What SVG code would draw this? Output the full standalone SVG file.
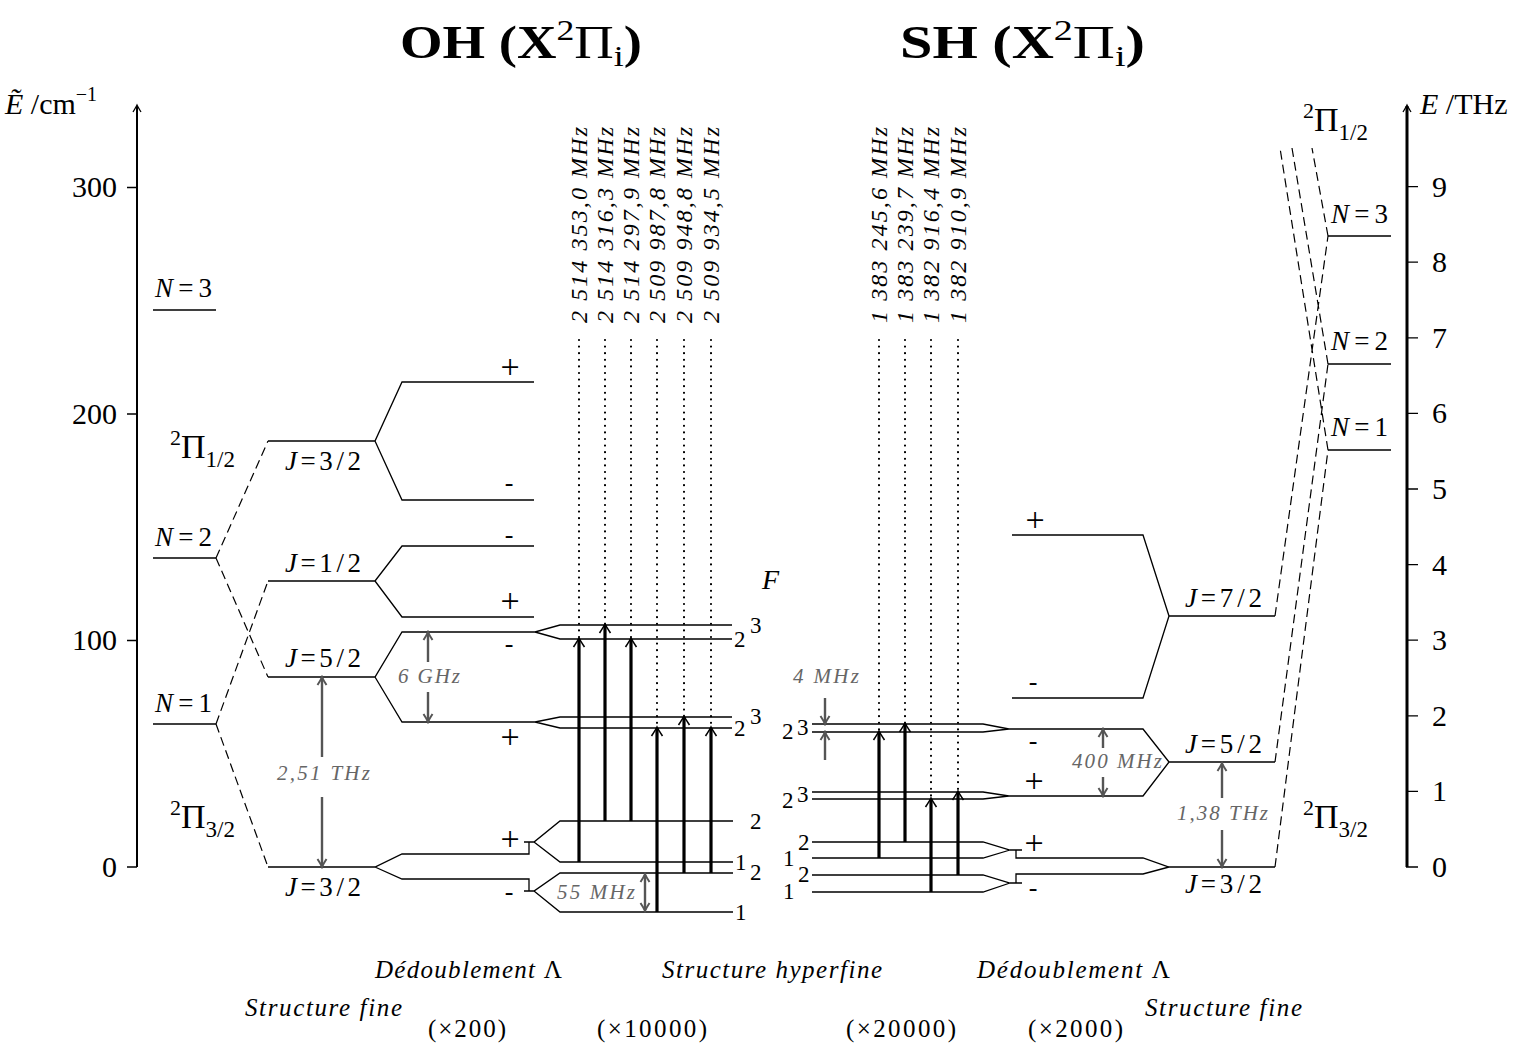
<svg xmlns="http://www.w3.org/2000/svg" width="1533" height="1047" viewBox="0 0 1533 1047">
<defs>
<style>
text{font-family:"Liberation Serif","DejaVu Serif",serif;fill:#000}
.it{font-style:italic}
.up{font-style:normal}
.lv{fill:none;stroke:#000;stroke-width:1.3}
.ds{fill:none;stroke:#000;stroke-width:1.2;stroke-dasharray:9 5}
.dt{fill:none;stroke:#000;stroke-width:2.2;stroke-dasharray:0 6.6;stroke-linecap:round}
.tr{fill:none;stroke:#000;stroke-width:3.2;marker-end:url(#ah)}
.ga{fill:none;stroke:#555;stroke-width:2.4;marker-end:url(#ag)}
.gt{fill:#666;font-style:italic;font-size:21px}
.lab{font-size:27px}
.num{font-size:30px}
.pl{font-size:34px;text-anchor:middle}
.mi{font-size:26px;text-anchor:middle}
.fq{font-size:24px;font-style:italic}
.hf{font-size:23px}
.bt{font-size:25px}
.ttl{font-size:46px}
</style>
<marker id="ah" markerUnits="userSpaceOnUse" viewBox="-12 -8 14 16" markerWidth="14" markerHeight="16" refX="-1" refY="0" orient="auto"><path d="M-9,-5.5 Q-3,-1.5 0,0 Q-3,1.5 -9,5.5" fill="none" stroke="#000" stroke-width="1.6"/></marker>
<marker id="ag" markerUnits="userSpaceOnUse" viewBox="-12 -8 14 16" markerWidth="14" markerHeight="16" refX="-1" refY="0" orient="auto"><path d="M-8,-4.5 Q-3,-1.2 0,0 Q-3,1.2 -8,4.5" fill="none" stroke="#555" stroke-width="2"/></marker>
<marker id="ax" markerUnits="userSpaceOnUse" viewBox="-10 -6 12 12" markerWidth="12" markerHeight="12" refX="-1" refY="0" orient="auto"><path d="M-7,-4 Q-2,-1 0,0 Q-2,1 -7,4" fill="none" stroke="#000" stroke-width="1.3"/></marker>
</defs>
<rect width="1533" height="1047" fill="#fff"/>

<g id="titles">
<text x="400" y="58" class="ttl" textLength="242" lengthAdjust="spacingAndGlyphs"><tspan font-weight="bold">OH (X</tspan><tspan font-size="30" dy="-18">2</tspan><tspan dy="18">Π</tspan><tspan font-size="30" dy="8">i</tspan><tspan font-weight="bold" dy="-8">)</tspan></text>
<text x="900" y="58" class="ttl" textLength="245" lengthAdjust="spacingAndGlyphs"><tspan font-weight="bold">SH (X</tspan><tspan font-size="30" dy="-18">2</tspan><tspan dy="18">Π</tspan><tspan font-size="30" dy="8">i</tspan><tspan font-weight="bold" dy="-8">)</tspan></text>
</g>

<g id="axis-left">
<path d="M137,867V106" fill="none" stroke="#000" stroke-width="2" marker-end="url(#ax)"/>
<path d="M127,867H137M127,640.5H137M127,414H137M127,187.5H137" fill="none" stroke="#000" stroke-width="1.3"/>
<text class="num" x="117" y="877" text-anchor="end">0</text>
<text class="num" x="117" y="650" text-anchor="end">100</text>
<text class="num" x="117" y="424" text-anchor="end">200</text>
<text class="num" x="117" y="197" text-anchor="end">300</text>
<text class="num" x="5" y="114"><tspan class="it">Ẽ</tspan> /cm<tspan font-size="20" dy="-13">−1</tspan></text>
</g>

<g id="axis-right">
<path d="M1407,867V106" fill="none" stroke="#000" stroke-width="3" marker-end="url(#ax)"/>
<path d="M1406,867H1418M1407,791.4H1418M1407,715.8H1418M1407,640.2H1418M1407,564.6H1418M1407,489H1418M1407,413.4H1418M1407,337.8H1418M1407,262.2H1418M1407,186.6H1418" fill="none" stroke="#000" stroke-width="1.3"/>
<text class="num" x="1432" y="877">0</text>
<text class="num" x="1432" y="801">1</text>
<text class="num" x="1432" y="726">2</text>
<text class="num" x="1432" y="650">3</text>
<text class="num" x="1432" y="575">4</text>
<text class="num" x="1432" y="499">5</text>
<text class="num" x="1432" y="423">6</text>
<text class="num" x="1432" y="348">7</text>
<text class="num" x="1432" y="272">8</text>
<text class="num" x="1432" y="197">9</text>
<text class="num" x="1420" y="114"><tspan class="it">E</tspan> /THz</text>
</g>

<g id="oh-rotational">
<path class="lv" d="M153,310H216M153,558H216M153,724H216"/>
<text class="lab" x="155" y="297" textLength="57"><tspan class="it">N</tspan>=3</text>
<text class="lab" x="155" y="546" textLength="57"><tspan class="it">N</tspan>=2</text>
<text class="lab" x="155" y="712" textLength="57"><tspan class="it">N</tspan>=1</text>
<text x="170" y="458" font-size="34"><tspan font-size="22" dy="-13">2</tspan><tspan dy="13">Π</tspan><tspan font-size="23" dy="9">1/2</tspan></text>
<text x="170" y="828" font-size="34"><tspan font-size="22" dy="-13">2</tspan><tspan dy="13">Π</tspan><tspan font-size="23" dy="9">3/2</tspan></text>
</g>

<g id="oh-fine">
<path class="lv" d="M268,441H375L402,382H534M375,441L402,500H534"/>
<path class="lv" d="M268,581H375L402,546H534M375,581L402,617H534"/>
<path class="lv" d="M268,677H375L402,632H535L560,625H732M535,632L560,639H732M375,677L402,722H535L560,717H732M535,722L560,728H732"/>
<path class="lv" d="M268,867H375L402,854H529V842M524,842H534L560,821H733M534,842L560,862H733M375,867L402,879H529V891M524,891H534L560,873H733M534,891L560,912H733"/>
<text class="lab" x="285" y="470" textLength="76"><tspan class="it">J</tspan>=3/2</text>
<text class="lab" x="285" y="572" textLength="76"><tspan class="it">J</tspan>=1/2</text>
<text class="lab" x="285" y="667" textLength="76"><tspan class="it">J</tspan>=5/2</text>
<text class="lab" x="285" y="896" textLength="76"><tspan class="it">J</tspan>=3/2</text>
<text class="pl" x="510" y="378">+</text>
<text class="mi" x="509" y="491">-</text>
<text class="mi" x="509" y="543">-</text>
<text class="pl" x="510" y="612">+</text>
<text class="mi" x="509" y="652">-</text>
<text class="pl" x="510" y="748">+</text>
<text class="pl" x="510" y="850">+</text>
<text class="mi" x="509" y="900">-</text>
<text x="762" y="589" font-size="28" class="it">F</text>
<text class="hf" x="750" y="633">3</text>
<text class="hf" x="734" y="647">2</text>
<text class="hf" x="750" y="724">3</text>
<text class="hf" x="734" y="736">2</text>
<text class="hf" x="750" y="829">2</text>
<text class="hf" x="735" y="870">1</text>
<text class="hf" x="750" y="880">2</text>
<text class="hf" x="735" y="920">1</text>
</g>

<g id="sh-fine">
<path class="lv" d="M1275,616H1169L1143,535H1012M1169,616L1143,698H1012"/>
<path class="lv" d="M1275,762H1169L1143,729H1009L983,724H812M1009,729L983,732H812M1169,762L1143,796H1009L983,792H812M1009,796L983,799H812"/>
<path class="lv" d="M1275,867H1169L1143,858H1016V850M1022,850H1010L983,842H812M1010,850L983,858H812M1169,867L1143,874H1016V883M1022,883H1010L983,875H812M1010,883L983,892H812"/>
<text class="lab" x="1185" y="607" textLength="77"><tspan class="it">J</tspan>=7/2</text>
<text class="lab" x="1185" y="753" textLength="77"><tspan class="it">J</tspan>=5/2</text>
<text class="lab" x="1185" y="893" textLength="77"><tspan class="it">J</tspan>=3/2</text>
<text class="pl" x="1035" y="531">+</text>
<text class="mi" x="1033" y="690">-</text>
<text class="mi" x="1033" y="749">-</text>
<text class="pl" x="1034" y="792">+</text>
<text class="pl" x="1034" y="854">+</text>
<text class="mi" x="1033" y="896">-</text>
<text class="hf" x="782" y="739">2</text>
<text class="hf" x="797" y="735">3</text>
<text class="hf" x="782" y="808">2</text>
<text class="hf" x="797" y="802">3</text>
<text class="hf" x="798" y="850">2</text>
<text class="hf" x="783" y="866">1</text>
<text class="hf" x="798" y="882">2</text>
<text class="hf" x="783" y="899">1</text>
</g>

<g id="sh-rotational">
<path class="lv" d="M1328,236H1391M1328,364H1391M1328,450H1391"/>
<text class="lab" x="1331" y="223" textLength="57"><tspan class="it">N</tspan>=3</text>
<text class="lab" x="1331" y="350" textLength="57"><tspan class="it">N</tspan>=2</text>
<text class="lab" x="1331" y="436" textLength="57"><tspan class="it">N</tspan>=1</text>
<text x="1303" y="131" font-size="34"><tspan font-size="22" dy="-13">2</tspan><tspan dy="13">Π</tspan><tspan font-size="23" dy="9">1/2</tspan></text>
<text x="1303" y="828" font-size="34"><tspan font-size="22" dy="-13">2</tspan><tspan dy="13">Π</tspan><tspan font-size="23" dy="9">3/2</tspan></text>
</g>

<g id="connectors">
<path class="ds" d="M216,558L268,441M216,558L268,677M216,724L268,581M216,724L268,867"/>
<path class="ds" d="M1275,616L1328,236M1275,762L1328,364M1275,867L1328,450M1328,236L1312,148M1328,364L1292,148M1328,450L1280,148"/>
<path class="dt" d="M579,340V639M605,340V625M631,340V639M657,340V728M684,340V717M711,340V728"/>
<path class="dt" d="M879,340V732M905,340V724M931,340V799M958,340V792"/>
<path class="tr" d="M579,862V639"/>
<path class="tr" d="M605,821V625"/>
<path class="tr" d="M631,821V639"/>
<path class="tr" d="M657,912V728"/>
<path class="tr" d="M684,873V717"/>
<path class="tr" d="M711,873V728"/>
<path class="tr" d="M879,858V732"/>
<path class="tr" d="M905,842V724"/>
<path class="tr" d="M931,892V799"/>
<path class="tr" d="M958,875V792"/>
<path class="ga" d="M428,662V633"/>
<path class="ga" d="M428,692V721"/>
<path class="ga" d="M322,757V678"/>
<path class="ga" d="M322,797V866"/>
<path class="ga" d="M645,892V875"/>
<path class="ga" d="M645,892V910"/>
<path class="ga" d="M825,698V723"/>
<path class="ga" d="M825,760V733"/>
<path class="ga" d="M1103,748V730"/>
<path class="ga" d="M1103,777V795"/>
<path class="ga" d="M1222,798V764"/>
<path class="ga" d="M1222,830V866"/>
</g>

<g id="annotations">
<text class="gt" x="398" y="683" textLength="62">6 GHz</text>
<text class="gt" x="277" y="780" textLength="93">2,51 THz</text>
<text class="gt" x="557" y="899" textLength="78">55 MHz</text>
<text class="gt" x="793" y="683" textLength="66">4 MHz</text>
<text class="gt" x="1072" y="768" textLength="90">400 MHz</text>
<text class="gt" x="1177" y="820" textLength="91">1,38 THz</text>
</g>

<g id="frequencies">
<text class="fq" transform="translate(587,323) rotate(-90)" textLength="196">2 514 353,0 MHz</text>
<text class="fq" transform="translate(613,323) rotate(-90)" textLength="196">2 514 316,3 MHz</text>
<text class="fq" transform="translate(639,323) rotate(-90)" textLength="196">2 514 297,9 MHz</text>
<text class="fq" transform="translate(665,323) rotate(-90)" textLength="196">2 509 987,8 MHz</text>
<text class="fq" transform="translate(692,323) rotate(-90)" textLength="196">2 509 948,8 MHz</text>
<text class="fq" transform="translate(719,323) rotate(-90)" textLength="196">2 509 934,5 MHz</text>
<text class="fq" transform="translate(887,323) rotate(-90)" textLength="196">1 383 245,6 MHz</text>
<text class="fq" transform="translate(913,323) rotate(-90)" textLength="196">1 383 239,7 MHz</text>
<text class="fq" transform="translate(939,323) rotate(-90)" textLength="196">1 382 916,4 MHz</text>
<text class="fq" transform="translate(966,323) rotate(-90)" textLength="196">1 382 910,9 MHz</text>
</g>

<g id="bottom-labels">
<text class="bt it" x="375" y="978" textLength="187">Dédoublement <tspan class="up">Λ</tspan></text>
<text class="bt it" x="662" y="978" textLength="220">Structure hyperfine</text>
<text class="bt it" x="977" y="978" textLength="193">Dédoublement <tspan class="up">Λ</tspan></text>
<text class="bt it" x="245" y="1016" textLength="157">Structure fine</text>
<text class="bt it" x="1145" y="1016" textLength="157">Structure fine</text>
<text class="bt" x="428" y="1037" textLength="78">(×200)</text>
<text class="bt" x="597" y="1037" textLength="110">(×10000)</text>
<text class="bt" x="846" y="1037" textLength="110">(×20000)</text>
<text class="bt" x="1028" y="1037" textLength="95">(×2000)</text>
</g>
</svg>
